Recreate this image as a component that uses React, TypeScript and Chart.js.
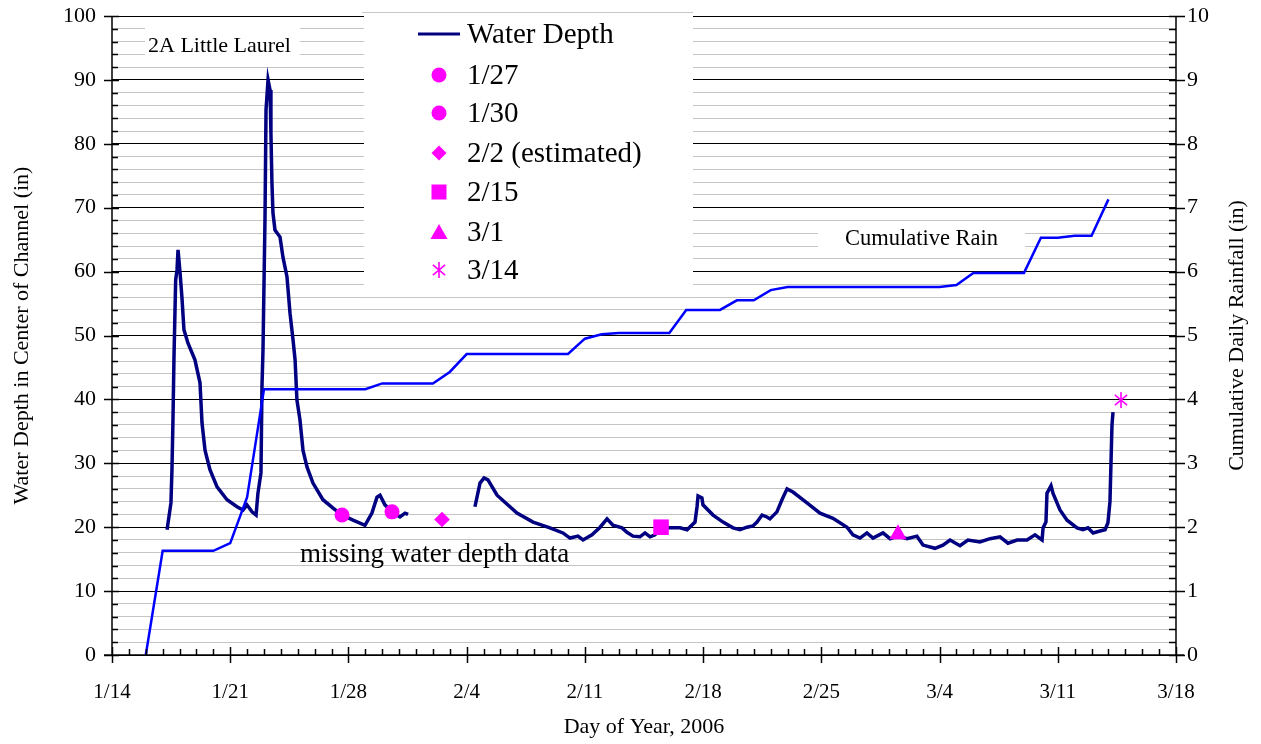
import React, { useEffect, useRef } from 'react';
import { Chart, registerables } from 'chart.js';

Chart.register(...registerables);

const FONT = "'Liberation Serif', 'Times New Roman', serif";

// Water depth (in), day-of-year 2006; null = missing data gap
const depthDays = [
  17.26, 17.37, 17.49, 17.55, 17.61, 17.67, 17.77, 17.85, 17.91, 18.03, 18.14, 18.26, 18.5, 18.91,
  19.21, 19.33, 19.51, 19.8, 20.22, 20.81, 21.4, 21.76, 21.99, 22.29, 22.53, 22.64, 22.82, 22.88,
  22.94, 23.06, 23.12, 23.24, 23.36, 23.41, 23.47, 23.53, 23.65, 23.95, 24.12, 24.36, 24.54, 24.72,
  24.84, 24.95, 25.13, 25.31, 25.55, 25.9, 26.49, 27.09, 27.62, 28.27, 28.98, 29.39, 29.69, 29.87,
  30.16, 30.58, 31.05, 31.35, 31.53,
  33.5,
  35.49, 35.79, 36.03, 36.26, 36.8, 37.98, 38.93, 39.93, 40.7, 41.12, 41.59, 41.89, 42.42, 42.9,
  43.31, 43.66, 44.2, 44.49, 44.85, 45.26, 45.56, 45.86, 46.15, 46.51, 46.86, 47.63, 48.05, 48.52,
  48.64, 48.7, 48.93, 48.99, 49.59, 50.18, 50.77, 51.18, 51.6, 51.95, 52.19, 52.49, 52.78, 52.96,
  53.37, 53.67, 53.97, 54.32, 55.15, 55.92, 56.69, 57.52, 57.87, 58.29, 58.7, 59.06, 59.65, 60.07,
  60.54, 61.07, 61.66, 62.02, 62.73, 63.2, 63.62, 64.21, 64.68, 65.39, 65.99, 66.58, 67.05, 67.59,
  68.18, 68.65, 69.07, 69.13, 69.3, 69.36, 69.6, 69.72, 70.13, 70.55, 71.14, 71.49, 71.79, 72.09,
  72.5, 72.8, 72.97, 73.09, 73.15, 73.21, 73.27,
];
const depthValues: (number | null)[] = [
  19.6, 21.6, 23.8, 29, 36.8, 46.6, 58.7, 60.3, 63.4, 59.8, 56, 50.9, 48.8, 46.2,
  42.6, 36.3, 32, 29, 26.3, 24.3, 23.2, 22.7, 23.5, 22.4, 21.9, 25.3, 28.5, 42,
  47.7, 68.5, 85.3, 90, 88.4, 81.7, 73.9, 69.2, 66.5, 65.4, 62.3, 59.2, 53.5, 49.3,
  46.2, 39.9, 36.8, 32, 29.4, 26.9, 24.3, 23, 21.9, 21.1, 20.3, 22.2, 24.7, 25,
  23.5, 22.4, 21.6, 22.2, 22,
  null,
  23.2, 26.9, 27.7, 27.4, 25, 22.2, 20.8, 19.9, 19.1, 18.3, 18.6, 18, 18.8, 20,
  21.3, 20.3, 19.9, 19.2, 18.6, 18.5, 19.1, 18.5, 18.8, 20, 19.9, 19.9, 19.6, 20.8,
  23.2, 24.9, 24.6, 23.5, 21.9, 20.8, 19.9, 19.6, 20, 20.2, 20.8, 21.9, 21.6, 21.3,
  22.4, 24.3, 26, 25.5, 23.8, 22.2, 21.4, 20, 18.8, 18.3, 19.1, 18.3, 19.1, 18.2,
  18.6, 18.2, 18.6, 17.2, 16.7, 17.2, 18, 17.1, 18, 17.7, 18.2, 18.5, 17.5, 18,
  18, 18.8, 18, 19.9, 20.8, 25.3, 26.5, 25.3, 22.7, 21.1, 19.9, 19.6, 19.9, 19.1,
  19.4, 19.6, 20.7, 24, 30, 36, 38,
];

// Cumulative daily rainfall (in)
const rainDays = [16, 17, 20, 21, 22, 23, 29, 30, 33, 34, 35, 41, 42, 43, 44, 47, 48, 50, 51, 52, 53, 54, 63, 64, 65, 68, 69, 70, 71, 72, 73];
const rainValues = [0, 1.63, 1.63, 1.75, 2.47, 4.16, 4.16, 4.25, 4.25, 4.43, 4.71, 4.71, 4.95, 5.02, 5.04, 5.04, 5.4, 5.4, 5.55, 5.55, 5.71, 5.76, 5.76, 5.79, 5.98, 5.98, 6.53, 6.53, 6.56, 6.56, 7.13];

// Manual measurements
const sampleLabels = ['1/27', '1/30', '2/2 (estimated)', '2/15', '3/1', '3/14'];
const sampleDays = [27.62, 30.58, 33.54, 46.51, 60.54, 73.74];
const sampleDepths = [21.9, 22.4, 21.2, 20.0, 18.9, 39.9];
const sampleShapes = ['circle', 'circle', 'rectRot', 'rect', 'triangle', 'asterisk'];

const xTickDays = [14, 21, 28, 35, 42, 49, 56, 63, 70, 77];
const xTickLabels = ['1/14', '1/21', '1/28', '2/4', '2/11', '2/18', '2/25', '3/4', '3/11', '3/18'];

const MAGENTA = '#ff00ff';

function makeAsterisk(r: number): HTMLCanvasElement {
  const s = Math.ceil(r * 2 + 4);
  const c = document.createElement('canvas');
  c.width = s;
  c.height = s;
  const g = c.getContext('2d')!;
  g.strokeStyle = MAGENTA;
  g.lineWidth = 1.6;
  const cx = s / 2, cy = s / 2;
  g.beginPath();
  for (const a of [90, 40, 140]) {
    const rad = (a * Math.PI) / 180;
    g.moveTo(cx - Math.cos(rad) * r, cy - Math.sin(rad) * r);
    g.lineTo(cx + Math.cos(rad) * r, cy + Math.sin(rad) * r);
  }
  g.stroke();
  return c;
}

function drawShape(ctx: CanvasRenderingContext2D, shape: string, x: number, y: number) {
  ctx.save();
  ctx.fillStyle = MAGENTA;
  ctx.strokeStyle = MAGENTA;
  ctx.beginPath();
  if (shape === 'circle') {
    ctx.arc(x, y, 7.5, 0, Math.PI * 2);
    ctx.fill();
  } else if (shape === 'rectRot') {
    ctx.moveTo(x, y - 7.5); ctx.lineTo(x + 7.5, y); ctx.lineTo(x, y + 7.5); ctx.lineTo(x - 7.5, y);
    ctx.closePath(); ctx.fill();
  } else if (shape === 'rect') {
    ctx.rect(x - 7.5, y - 7.5, 15, 15); ctx.fill();
  } else if (shape === 'triangle') {
    ctx.moveTo(x, y - 8); ctx.lineTo(x + 8.5, y + 7); ctx.lineTo(x - 8.5, y + 7);
    ctx.closePath(); ctx.fill();
  } else {
    ctx.lineWidth = 1.6;
    for (const a of [90, 40, 140]) {
      const rad = (a * Math.PI) / 180;
      ctx.moveTo(x - Math.cos(rad) * 8, y - Math.sin(rad) * 8);
      ctx.lineTo(x + Math.cos(rad) * 8, y + Math.sin(rad) * 8);
    }
    ctx.stroke();
  }
  ctx.restore();
}

const overlayPlugin = {
  id: 'overlay',
  beforeDatasetsDraw(chart: any) {
    const ctx: CanvasRenderingContext2D = chart.ctx;
    const a = chart.chartArea;
    ctx.save();
    ctx.fillStyle = '#ffffff';
    // title box, legend box, rain label box
    ctx.fillRect(a.left + 33, a.top + 6, 155, 40);
    ctx.fillRect(a.left + 252, a.top - 4, 329, 285);
    ctx.fillRect(a.left + 706, a.top + 208, 207, 28);
    ctx.strokeStyle = '#c8c8c8';
    ctx.lineWidth = 1;
    ctx.beginPath();
    ctx.moveTo(a.left + 250, a.top - 3.5); ctx.lineTo(a.left + 581, a.top - 3.5);
    ctx.moveTo(a.left + 250, a.top + 281.5); ctx.lineTo(a.left + 581, a.top + 281.5);
    ctx.stroke();
    ctx.restore();
  },
  afterDatasetsDraw(chart: any) {
    const ctx: CanvasRenderingContext2D = chart.ctx;
    const a = chart.chartArea;
    const xs = chart.scales.x, ys = chart.scales.y, y2 = chart.scales.y2;
    ctx.save();
    ctx.strokeStyle = '#000';
    ctx.lineWidth = 1.5;
    ctx.beginPath();
    // axis lines
    ctx.moveTo(a.left, a.top); ctx.lineTo(a.left, a.bottom);
    ctx.moveTo(a.right, a.top); ctx.lineTo(a.right, a.bottom);
    ctx.moveTo(a.left - 8, a.bottom); ctx.lineTo(a.right + 8, a.bottom);
    // left ticks
    for (let v = 0; v <= 100; v += 2) {
      const py = Math.round(ys.getPixelForValue(v)) + 0.5;
      if (v % 10 === 0) { ctx.moveTo(a.left - 8, py); ctx.lineTo(a.left + 7, py); }
      else { ctx.moveTo(a.left, py); ctx.lineTo(a.left + 6, py); }
    }
    // right ticks
    for (let i = 0; i <= 50; i++) {
      const v = i / 5;
      const py = Math.round(y2.getPixelForValue(v)) + 0.5;
      if (i % 5 === 0) { ctx.moveTo(a.right - 7, py); ctx.lineTo(a.right + 9, py); }
      else { ctx.moveTo(a.right - 7, py); ctx.lineTo(a.right, py); }
    }
    // bottom ticks
    for (let d = 14; d <= 77; d++) {
      const px = Math.round(xs.getPixelForValue(d)) + 0.5;
      if ((d - 14) % 7 === 0) { ctx.moveTo(px, a.bottom - 8); ctx.lineTo(px, a.bottom + 8); }
      else { ctx.moveTo(px, a.bottom - 6); ctx.lineTo(px, a.bottom); }
    }
    ctx.stroke();

    ctx.fillStyle = '#000';
    ctx.textBaseline = 'alphabetic';
    ctx.textAlign = 'left';
    // chart title annotation
    ctx.font = `22px ${FONT}`;
    ctx.fillText('2A Little Laurel', a.left + 36, a.top + 36);
    // rain annotation
    ctx.font = `22.5px ${FONT}`;
    ctx.fillText('Cumulative Rain', a.left + 733, a.top + 229);
    // missing data annotation
    ctx.font = `27px ${FONT}`;
    ctx.fillText('missing water depth data', a.left + 188, a.top + 546);

    // right axis title
    ctx.save();
    ctx.font = `22px ${FONT}`;
    ctx.textAlign = 'center';
    ctx.textBaseline = 'middle';
    ctx.translate(chart.width - 24, (a.top + a.bottom) / 2);
    ctx.rotate(-Math.PI / 2);
    ctx.fillText('Cumulative Daily Rainfall (in)', 0, 0);
    ctx.restore();

    // legend
    const lx = a.left + 306;
    ctx.strokeStyle = '#000080';
    ctx.lineWidth = 3;
    ctx.beginPath();
    ctx.moveTo(lx, a.top + 18); ctx.lineTo(lx + 42, a.top + 18);
    ctx.stroke();
    ctx.font = `29px ${FONT}`;
    ctx.fillStyle = '#000';
    ctx.fillText('Water Depth', lx + 49, a.top + 27);
    const rowY = [59, 97, 137, 176, 216, 254];
    sampleLabels.forEach((lab, i) => {
      drawShape(ctx, sampleShapes[i], lx + 21, a.top + rowY[i]);
      ctx.fillStyle = '#000';
      ctx.font = `29px ${FONT}`;
      ctx.fillText(lab, lx + 49, a.top + rowY[i] + 9);
    });
    ctx.restore();
  },
};

export default function App() {
  const ref = useRef<HTMLCanvasElement>(null);
  useEffect(() => {
    const canvas = ref.current!;
    const star = makeAsterisk(8);
    const sampleDatasets = sampleLabels.map((lab, i) => {
      const shape = sampleShapes[i];
      let radius = 7.5;
      if (shape === 'rect') radius = 11;
      if (shape === 'rectRot') radius = 7.8;
      if (shape === 'triangle') radius = 10;
      return {
        label: lab,
        data: [{ x: sampleDays[i], y: sampleDepths[i] }],
        showLine: false,
        pointStyle: shape === 'asterisk' ? star : shape,
        pointRadius: radius,
        pointHoverRadius: radius,
        pointBackgroundColor: MAGENTA,
        pointBorderColor: MAGENTA,
        pointBorderWidth: 0,
        yAxisID: 'y',
        order: 1,
      };
    });
    const chart = new Chart(canvas, {
      type: 'line',
      data: {
        datasets: [
          {
            label: 'Water Depth',
            data: depthDays.map((d, i) => ({ x: d, y: depthValues[i] })),
            borderColor: '#000080',
            borderWidth: 3.5,
            pointRadius: 0,
            spanGaps: false,
            tension: 0,
            yAxisID: 'y',
            order: 3,
          },
          {
            label: 'Cumulative Rain',
            data: rainDays.map((d, i) => ({ x: d, y: rainValues[i] })),
            borderColor: '#0000ff',
            borderWidth: 2.5,
            pointRadius: 0,
            tension: 0,
            yAxisID: 'y2',
            order: 2,
          },
          ...sampleDatasets,
        ] as any,
      },
      options: {
        animation: false,
        responsive: true,
        maintainAspectRatio: false,
        layout: { padding: { top: 16, left: 0, right: 0, bottom: 0 } },
        plugins: { legend: { display: false }, tooltip: { enabled: false }, title: { display: false } },
        scales: {
          x: {
            type: 'linear',
            min: 14,
            max: 77,
            afterBuildTicks: (s: any) => { s.ticks = xTickDays.map((v) => ({ value: v })); },
            afterFit: (s: any) => { s.height = 89; s.paddingLeft = 0; s.paddingRight = 0; },
            ticks: {
              autoSkip: false,
              maxRotation: 0,
              padding: 25,
              color: '#000',
              font: { family: FONT, size: 21 },
              callback: (v: any) => xTickLabels[xTickDays.indexOf(Number(v))] ?? '',
            },
            grid: { display: false, drawTicks: false },
            border: { display: false },
            title: { display: true, text: 'Day of Year, 2006', color: '#000', font: { family: FONT, size: 22 }, padding: { top: 0, bottom: 4 } },
          },
          y: {
            type: 'linear',
            position: 'left',
            min: 0,
            max: 100,
            afterBuildTicks: (s: any) => { s.ticks = Array.from({ length: 51 }, (_, i) => ({ value: i * 2 })); },
            afterFit: (s: any) => { s.width = 112; s.paddingTop = 0; s.paddingBottom = 0; },
            ticks: {
              autoSkip: false,
              padding: 16,
              color: '#000',
              font: { family: FONT, size: 22 },
              callback: (v: any) => (Number(v) % 10 === 0 ? String(v) : ''),
            },
            grid: {
              drawTicks: false,
              lineWidth: 1,
              color: (c: any) => (c.tick && c.tick.value % 10 === 0 ? '#000000' : '#c4c4c4'),
            },
            border: { display: false },
            title: { display: true, text: 'Water Depth in Center of Channel (in)', color: '#000', font: { family: FONT, size: 22 }, padding: { top: 9, bottom: 0 } },
          },
          y2: {
            type: 'linear',
            position: 'right',
            min: 0,
            max: 10,
            afterBuildTicks: (s: any) => { s.ticks = Array.from({ length: 11 }, (_, i) => ({ value: i })); },
            afterFit: (s: any) => { s.width = 85; s.paddingTop = 0; s.paddingBottom = 0; },
            ticks: { autoSkip: false, padding: 11, color: '#000', font: { family: FONT, size: 22 } },
            grid: { display: false, drawTicks: false },
            border: { display: false },
          },
        },
      } as any,
      plugins: [overlayPlugin],
    });
    return () => chart.destroy();
  }, []);
  return (
    <div style={{ position: 'fixed', left: 0, top: 0, width: 1261, height: 744, background: '#fff' }}>
      <canvas ref={ref} />
    </div>
  );
}
